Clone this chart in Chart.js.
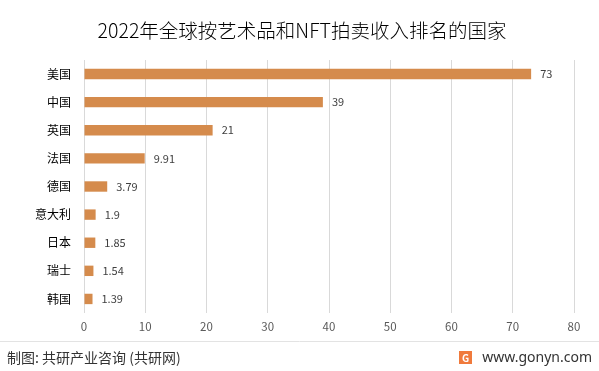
<!DOCTYPE html>
<html>
<head>
<meta charset="utf-8">
<script src="https://cdn.jsdelivr.net/npm/chart.js@4/dist/chart.umd.min.js"></script>
<style>
  html, body { margin: 0; padding: 0; background: #fff; }
  #wrap { width: 599px; height: 371px; position: relative; }
</style>
</head>
<body>
<div id="wrap"><canvas id="grafico"></canvas></div>
<script>
var paises = ['美国', '中国', '英国', '法国', '德国', '意大利', '日本', '瑞士', '韩国'];
var ingresos = [73, 39, 21, 9.91, 3.79, 1.9, 1.85, 1.54, 1.39];
var etiquetas = ['73', '39', '21', '9.91', '3.79', '1.9', '1.85', '1.54', '1.39'];
var titulo = '2022年全球按艺术品和NFT拍卖收入排名的国家';
var fuente = '制图: 共研产业咨询 (共研网)';
var sitio = 'www.gonyn.com';

var fontCN = '"Noto Sans CJK SC", "Microsoft YaHei", sans-serif';

// etiquetas de valor y pie de pagina
var extras = {
    id: 'extras',
    afterDatasetsDraw: function(chart) {
        var ctx = chart.ctx;
        var meta = chart.getDatasetMeta(0);
        ctx.save();
        ctx.font = '11px ' + fontCN;
        ctx.fillStyle = '#404040';
        ctx.textBaseline = 'middle';
        ctx.textAlign = 'left';
        meta.data.forEach(function(bar, i) {
            ctx.fillText(etiquetas[i], bar.x + 9, bar.y);
        });
        ctx.restore();
    },
    afterDraw: function(chart) {
        var ctx = chart.ctx;
        ctx.save();
        ctx.fillStyle = '#000';
        ctx.font = '300 19.5px ' + fontCN;
        ctx.textAlign = 'center';
        ctx.textBaseline = 'middle';
        ctx.fillText(titulo, 302, 31);

        ctx.strokeStyle = '#e3e3e3';
        ctx.lineWidth = 1;
        ctx.beginPath();
        ctx.moveTo(0, 341.5);
        ctx.lineTo(599, 341.5);
        ctx.stroke();

        ctx.fillStyle = '#333';
        ctx.font = '14px ' + fontCN;
        ctx.textAlign = 'left';
        ctx.fillText(fuente, 7, 358);

        ctx.fillStyle = '#f07a3c';
        ctx.fillRect(459, 351, 13, 13);
        ctx.fillStyle = '#fff';
        ctx.font = 'bold 10px ' + fontCN;
        ctx.fillText('G', 462, 358);

        ctx.fillStyle = '#333';
        ctx.font = '14px "Noto Sans", sans-serif';
        ctx.textAlign = 'right';
        ctx.fillText(sitio, 592, 358);
        ctx.restore();
    }
};

var ctx = document.getElementById('grafico').getContext('2d');
var grafico = new Chart(ctx, {
    type: 'bar',
    data: {
        labels: paises,
        datasets: [{
            data: ingresos,
            backgroundColor: '#d58b4c',
            categoryPercentage: 1,
            barPercentage: 0.37
        }]
    },
    options: {
        indexAxis: 'y',
        responsive: true,
        maintainAspectRatio: false,
        animation: false,
        layout: { padding: { top: 60, right: 25, bottom: 32, left: 0 } },
        plugins: {
            legend: { display: false },
            tooltip: { enabled: false }
        },
        scales: {
            x: {
                min: 0,
                max: 80,
                ticks: {
                    stepSize: 10,
                    color: '#595959',
                    font: { size: 11.5, family: fontCN },
                    padding: 7
                },
                grid: { color: '#d9d9d9', drawTicks: false },
                border: { display: false },
                afterFit: function(s) { s.height = 26; }
            },
            y: {
                ticks: {
                    color: '#000',
                    font: { size: 12, family: fontCN },
                    padding: 13
                },
                grid: { display: false, drawTicks: false },
                border: { display: false },
                afterFit: function(s) { s.width = 84; }
            }
        }
    },
    plugins: [extras]
});
</script>
</body>
</html>
